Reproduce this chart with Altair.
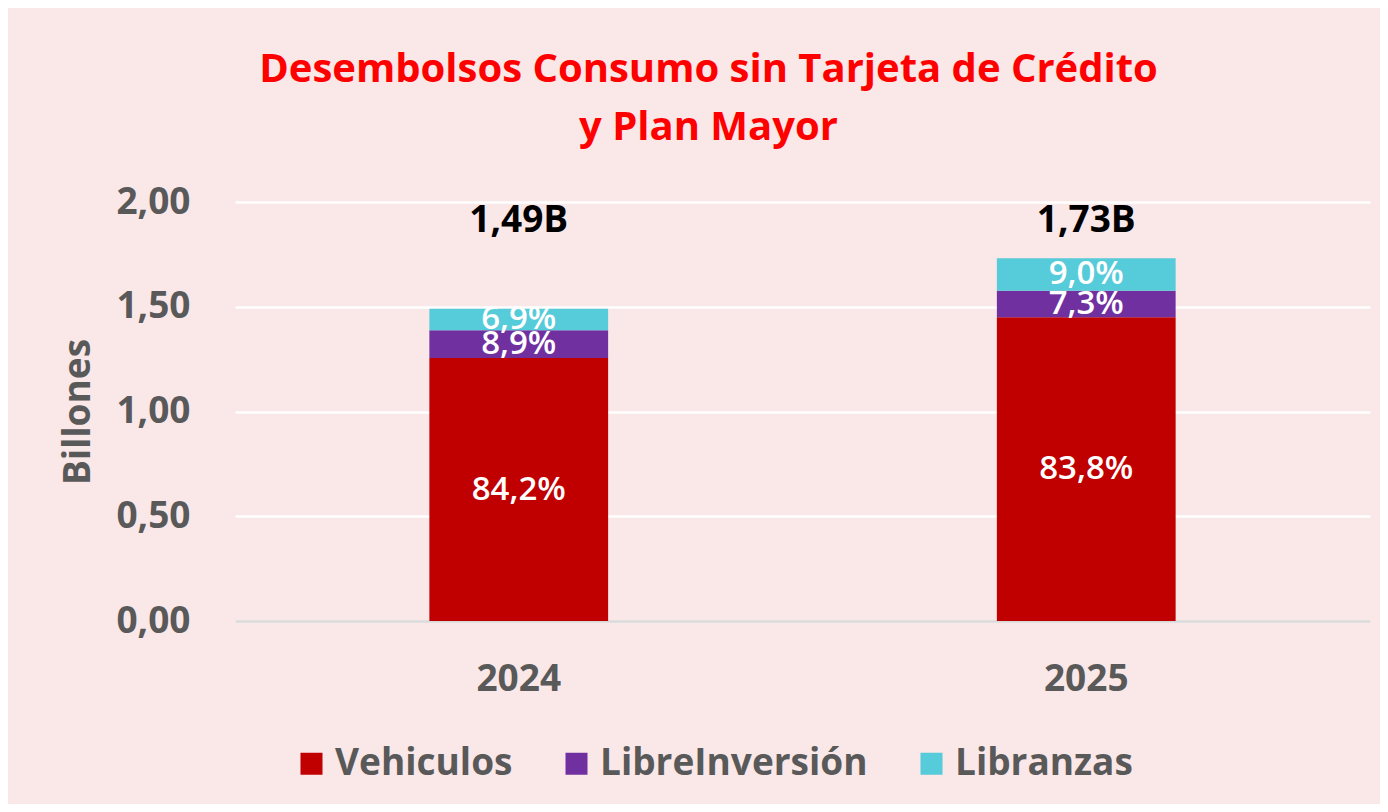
import altair as alt
import pandas as pd

# ---- data ----
years = ["2024", "2025"]
series = ["Vehiculos", "LibreInversión", "Libranzas"]
vehiculos = [1.255, 1.450]
libre_inversion = [0.133, 0.126]
libranzas = [0.103, 0.156]
pct_vehiculos = ["84,2%", "83,8%"]
pct_libre = ["8,9%", "7,3%"]
pct_libranzas = ["6,9%", "9,0%"]
totals = ["1,49B", "1,73B"]

colors = ["#C00000", "#7030A0", "#56CBD9"]
FONT = "Open Sans"
GRAY = "#595959"

rows = []
for i, y in enumerate(years):
    for k, (name, vals, pcts) in enumerate(zip(
            series,
            [vehiculos, libre_inversion, libranzas],
            [pct_vehiculos, pct_libre, pct_libranzas])):
        rows.append({"year": y, "serie": name, "ord": k, "value": vals[i], "pct": pcts[i]})
df = pd.DataFrame(rows)
df_tot = pd.DataFrame({"year": years, "label": totals})

x_enc = alt.X(
    "year:N",
    title=None,
    scale=alt.Scale(domain=years, paddingInner=0.685, paddingOuter=0.3425),
    axis=alt.Axis(
        labelAngle=0, labelFont=FONT, labelFontSize=37, labelFontWeight="bold",
        labelColor=GRAY, labelPadding=40, ticks=False, grid=False,
        domain=True, domainColor="#D9D9D9", domainWidth=2.5,
    ),
)

base = alt.Chart(df).transform_stack(
    stack="value", groupby=["year"], as_=["y0", "y1"], offset="zero",
    sort=[alt.SortField("ord", "ascending")],
).transform_calculate(mid="(datum.y0 + datum.y1) / 2")

bars = base.mark_bar().encode(
    x=x_enc,
    y=alt.Y(
        "y0:Q",
        title="Billones",
        scale=alt.Scale(domain=[0, 2], nice=False),
        axis=alt.Axis(
            values=[0, 0.5, 1, 1.5, 2],
            labelExpr="replace(format(datum.value, '.2f'), '.', ',')",
            labelFont=FONT, labelFontSize=37, labelFontWeight="bold", labelColor=GRAY,
            labelPadding=45, ticks=False, domain=False,
            grid=True, gridColor="#FFFFFF", gridWidth=2.5,
            titleFont=FONT, titleFontSize=37, titleFontWeight="bold", titleColor=GRAY,
            titlePadding=18,
        ),
    ),
    y2="y1:Q",
    color=alt.Color(
        "serie:N",
        scale=alt.Scale(domain=series, range=colors),
        legend=alt.Legend(
            title=None, orient="none", legendX=58, legendY=543,
            direction="horizontal", symbolType="square", symbolSize=484,
            symbolStrokeWidth=0, labelFont=FONT, labelFontSize=37,
            labelFontWeight="bold", labelColor=GRAY, columnPadding=45,
            labelOffset=5, labelLimit=0,
        ),
    ),
    order=alt.Order("ord:Q"),
)

seg_text = base.mark_text(
    font=FONT, fontSize=33, fontWeight=600, color="white", baseline="middle", align="center",
).encode(x=alt.X("year:N"), y=alt.Y("mid:Q"), text="pct:N")

tot_text = alt.Chart(df_tot).mark_text(
    font=FONT, fontSize=37, fontWeight="bold", color="black", baseline="middle", align="center",
).encode(x=alt.X("year:N"), y=alt.value(19), text="label:N")

chart = alt.layer(bars, seg_text, tot_text).properties(
    width=1135,
    height=419,
    padding={"left": 227, "top": 194, "right": 10, "bottom": 183},
    autosize=alt.AutoSizeParams(type="none"),
    background="#FAE7E8",
    title=alt.TitleParams(
        text=["Desembolsos Consumo sin Tarjeta de Crédito", "y Plan Mayor"],
        font=FONT, fontSize=40, fontWeight="bold", color="#FF0000",
        anchor="middle", dx=-94, dy=-15, lineHeight=58, offset=20,
    ),
).configure_view(stroke=None)

chart.save("out.html", embed_options={"renderer": "svg", "actions": False})
